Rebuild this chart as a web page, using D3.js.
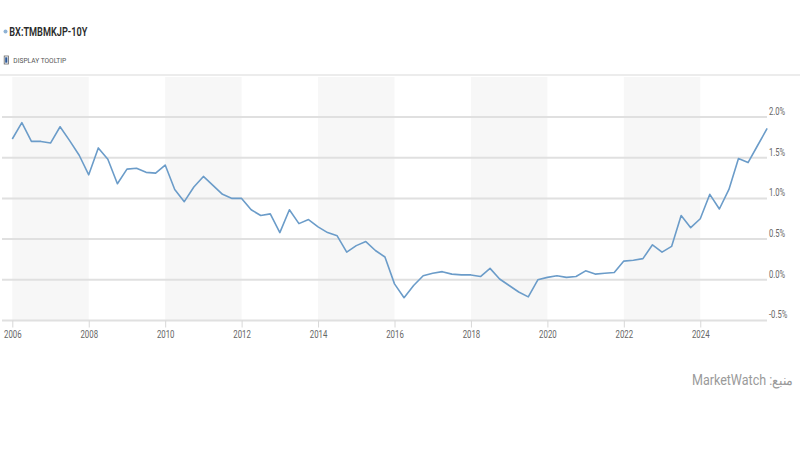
<!DOCTYPE html>
<html><head><meta charset="utf-8">
<script src="https://cdn.jsdelivr.net/npm/d3@7"></script>
<style>
html,body{margin:0;padding:0;background:#fff;}
svg{display:block;font-family:Roboto,"Noto Sans",sans-serif;}
</style></head>
<body>
<svg id="c" width="800" height="450"></svg>
<script>
const title = "BX:TMBMKJP-10Y";
const tooltipLabel = "DISPLAY TOOLTIP";
const source = "منبع: MarketWatch";
const quarters = [
"2006Q1","2006Q2","2006Q3","2006Q4","2007Q1","2007Q2","2007Q3","2007Q4",
"2008Q1","2008Q2","2008Q3","2008Q4","2009Q1","2009Q2","2009Q3","2009Q4",
"2010Q1","2010Q2","2010Q3","2010Q4","2011Q1","2011Q2","2011Q3","2011Q4",
"2012Q1","2012Q2","2012Q3","2012Q4","2013Q1","2013Q2","2013Q3","2013Q4",
"2014Q1","2014Q2","2014Q3","2014Q4","2015Q1","2015Q2","2015Q3","2015Q4",
"2016Q1","2016Q2","2016Q3","2016Q4","2017Q1","2017Q2","2017Q3","2017Q4",
"2018Q1","2018Q2","2018Q3","2018Q4","2019Q1","2019Q2","2019Q3","2019Q4",
"2020Q1","2020Q2","2020Q3","2020Q4","2021Q1","2021Q2","2021Q3","2021Q4",
"2022Q1","2022Q2","2022Q3","2022Q4","2023Q1","2023Q2","2023Q3","2023Q4",
"2024Q1","2024Q2","2024Q3","2024Q4","2025Q1","2025Q2","2025Q3","2025Q4"];
const yields = [
1.73,1.93,1.70,1.70,1.68,1.88,1.71,1.53,
1.29,1.62,1.48,1.18,1.36,1.37,1.32,1.31,
1.41,1.11,0.96,1.14,1.27,1.16,1.05,1.00,
1.00,0.86,0.79,0.81,0.58,0.86,0.69,0.74,
0.65,0.58,0.54,0.34,0.42,0.47,0.36,0.28,
-0.05,-0.22,-0.07,0.05,0.08,0.10,0.07,0.06,
0.06,0.04,0.14,0.01,-0.07,-0.15,-0.21,0.00,
0.03,0.05,0.03,0.04,0.11,0.07,0.08,0.09,
0.23,0.24,0.26,0.43,0.34,0.41,0.79,0.64,
0.75,1.05,0.87,1.11,1.49,1.44,1.65,1.86];
const xTicks = [2006,2008,2010,2012,2014,2016,2018,2020,2022,2024];
const yTicks = [-0.5,0.0,0.5,1.0,1.5,2.0];
const bandStarts = [2006,2010,2014,2018,2022];

const svg = d3.select("#c");
const toYear = q => +q.slice(0,4) + (+q.slice(5) - 1) / 4;
const data = quarters.map((q,i)=>({t:toYear(q), v:yields[i]}));

const x = d3.scaleLinear().domain([2006,2026]).range([12.3,776.7]);
const y = d3.scaleLinear().domain([-0.5,2.0]).range([320.5,117]);
const gridLeft = 2, gridRight = 767, plotTop = 77;

function condense(sel, factor){
  sel.each(function(){
    const w = this.getComputedTextLength();
    d3.select(this).attr("textLength", w*factor).attr("lengthAdjust","spacingAndGlyphs");
  });
}
function fitWidth(sel, width){
  sel.attr("textLength", width).attr("lengthAdjust","spacingAndGlyphs");
}

// header
svg.append("circle").attr("cx",5.5).attr("cy",31.5).attr("r",2).attr("fill","#8fb2d4");
svg.append("text").attr("x",9.3).attr("y",36).attr("font-size",12).attr("font-weight",600)
  .attr("fill","#2a2a2a").text(title).call(fitWidth,78);
svg.append("rect").attr("x",4.2).attr("y",56).attr("width",4.2).attr("height",8)
  .attr("fill","#fff").attr("stroke","#666").attr("stroke-width",0.8);
svg.append("rect").attr("x",5.2).attr("y",57.3).attr("width",2.2).attr("height",5.4).attr("fill","#2b5797");
svg.append("text").attr("x",13.3).attr("y",62.7).attr("font-size",7.2).attr("fill","#555")
  .text(tooltipLabel).call(fitWidth,53);
svg.append("line").attr("x1",0).attr("x2",800).attr("y1",75).attr("y2",75)
  .attr("stroke","#e6e6e6").attr("stroke-width",1.5);

// shaded bands
svg.append("g").selectAll("rect").data(bandStarts).join("rect")
  .attr("x",d=>x(d)).attr("width",d=>x(d+2)-x(d))
  .attr("y",plotTop).attr("height",y(-0.5)-plotTop)
  .attr("fill","#f7f7f7");

// gridlines
svg.append("g").selectAll("line").data(yTicks).join("line")
  .attr("x1",gridLeft).attr("x2",gridRight)
  .attr("y1",d=>y(d)).attr("y2",d=>y(d))
  .attr("stroke","#e0e0e0").attr("stroke-width",2);

// y axis labels
const yAxis = d3.axisRight(y).tickValues(yTicks).tickSize(0).tickPadding(0)
  .tickFormat(d=>d.toFixed(1)+"%");
const gy = svg.append("g").attr("transform",`translate(769,0)`).call(yAxis);
gy.select(".domain").remove();
gy.selectAll("text").attr("font-size",10.3).attr("fill","#666").attr("font-family","Roboto,sans-serif")
  .attr("dy","-0.25em").call(condense,0.74);

// x axis
const xAxis = d3.axisBottom(x).tickValues(xTicks).tickFormat(d3.format("d")).tickSize(7).tickPadding(3);
const gx = svg.append("g").attr("transform",`translate(0,${y(-0.5)})`).call(xAxis);
gx.select(".domain").remove();
gx.selectAll(".tick line").attr("stroke","#d8d8d8").attr("stroke-width",1);
gx.selectAll("text").attr("font-size",10.3).attr("fill","#666").attr("font-family","Roboto,sans-serif")
  .call(condense,0.76);

// line
const line = d3.line().x(d=>x(d.t)).y(d=>y(d.v));
svg.append("path").datum(data).attr("d",line).attr("fill","none")
  .attr("stroke","#6b9cc9").attr("stroke-width",1.6).attr("stroke-linejoin","round");

// source
const src = svg.append("g").attr("transform","translate(793,385)");
const st = src.append("text").attr("x",0).attr("y",0).attr("font-size",14).attr("fill","#9a9a9a")
  .attr("direction","rtl").attr("text-anchor","start").style("direction","rtl")
  .text(source);
const bw = st.node().getBBox().width;
src.attr("transform",`translate(793,385) scale(${101/bw},1)`);
</script>
</body></html>
